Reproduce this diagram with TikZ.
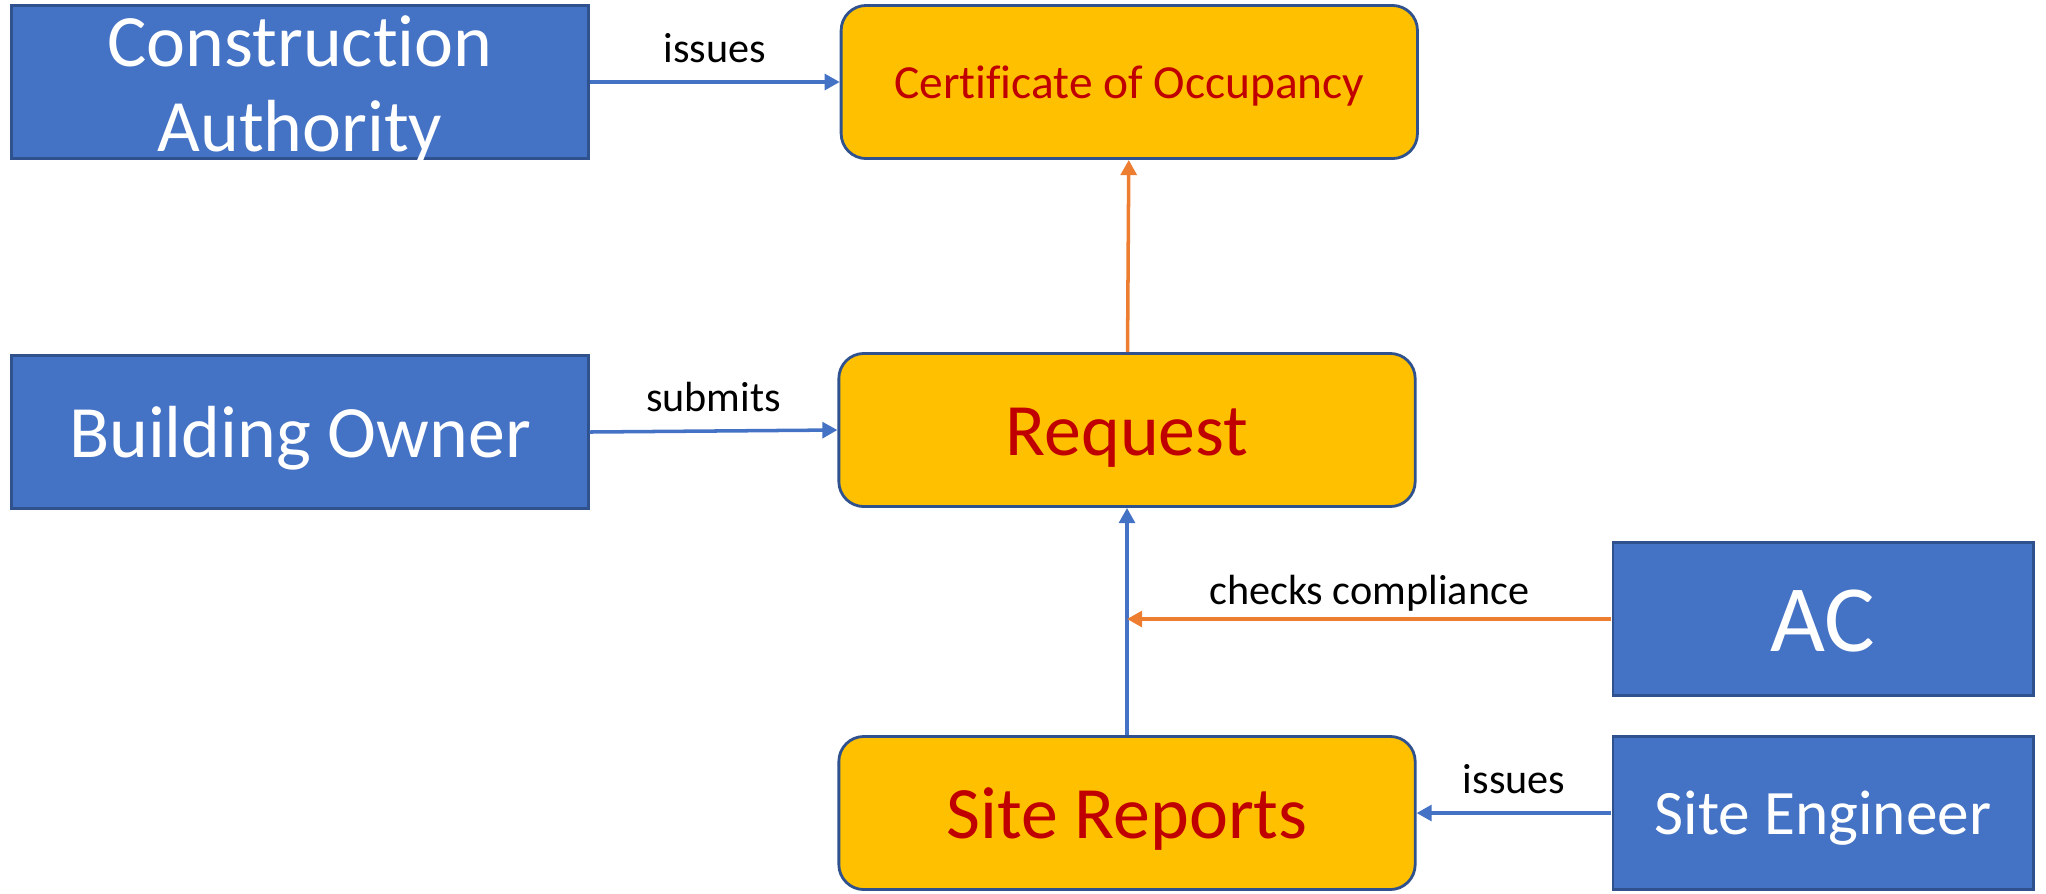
\documentclass[tikz,border=0pt]{standalone}
\usepackage{fontspec}
\setmainfont{Carlito}[Ligatures={NoCommon}]
\usetikzlibrary{positioning,arrows.meta}
\definecolor{actorblue}{HTML}{4472C4}
\definecolor{actorline}{HTML}{2F528F}
\definecolor{docyellow}{HTML}{FFC000}
\definecolor{docred}{HTML}{C00000}
\definecolor{checkor}{HTML}{ED7D31}

\begin{document}
\begin{tikzpicture}[
	x=0.01cm,y=-0.01cm,
	actor/.style={
	  draw=actorline,
	  fill=actorblue,
	  line width=0.8pt,
	  text=white,
	  align=center,
	  minimum width=5.76cm,
	  minimum height=1.53cm,
	  text height=20pt,
	  text depth=5.6pt,
	  font=\fontsize{21}{24.2}\selectfont
	},
	doc/.style={
	  draw=actorline,
	  fill=docyellow,
	  rounded corners=0.25cm,
	  line width=0.8pt,
	  text=docred,
	  minimum width=5.76cm,
	  minimum height=1.53cm,
	  text height=20pt,
	  text depth=5.6pt,
	  font=\fontsize{21}{24.2}\selectfont
	},
	flow/.style={
	  draw=actorblue,
	  line width=1pt,
	  -{Triangle[length=4.3pt,width=4.5pt]}
	},
	check/.style={
	  flow,
	  draw=checkor
	},
	verb/.style={
	  above,
	  inner sep=5pt,
	  text depth=0pt,
	  font=\fontsize{12}{14}\selectfont
	},
	node distance=2.5cm
]

\useasboundingbox (0,0) rectangle (2046,893);

% left column
\node[actor,inner ysep=0pt,text height=41.5pt,text depth=1.7pt] at (300,82)
  (ca) {Construction\\Authority};
\node[actor] at (300,432)
  (bo) {Building Owner};

% middle column
\node[doc,right=of ca,text height=13pt,text depth=3.4pt,
  font=\fontsize{13.5}{16}\selectfont]
  (cert) {Certificate of Occupancy};
\node[doc] at (1127,430)
  (req) {Request};
\node[doc] at (1127,813)
  (sr) {Site Reports};

% right column
\node[actor,minimum width=4.2cm,text height=24pt,text depth=5.6pt,
  font=\fontsize{27}{30}\selectfont] at (1823,619)
  (ac) {AC};
\node[actor,minimum width=4.2cm,text height=17pt,text depth=4.8pt,
  font=\fontsize{18}{21}\selectfont] at (1823,813)
  (se) {Site Engineer};

\coordinate (chk) at (req.south |- ac.west);

% connectors
\draw[flow] (ca) -- node[verb] {issues} (cert);
\draw[flow] (bo.east) -- node[verb] {submits} (req.west);
\draw[check] (req) -- (cert);
\draw[flow] (sr) -- (req);
\draw[check] (ac) -- node[verb,inner sep=3.7pt] {checks compliance} (chk);
\draw[flow] (se) -- node[verb] {issues} (sr);

\end{tikzpicture}
\end{document}
